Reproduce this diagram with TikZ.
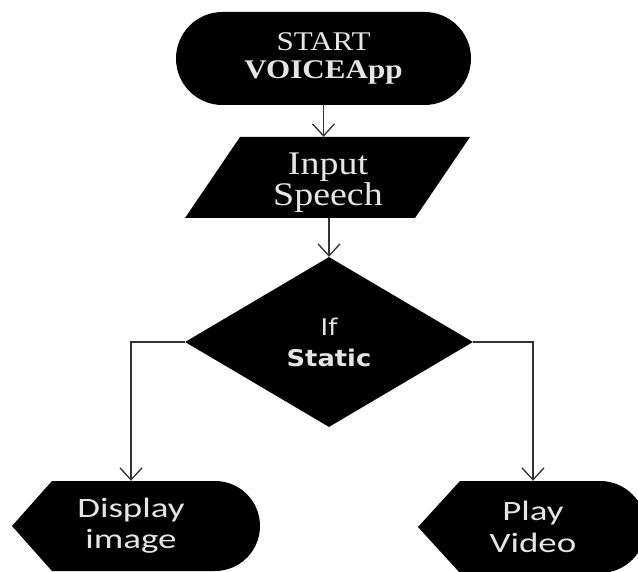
\documentclass[tikz,border=0pt]{standalone}
\usepackage{fontspec}
\usetikzlibrary{shapes.geometric,shapes.misc,arrows.meta}
\newfontfamily\serifw[FakeStretch=1.15]{Liberation Serif}
\newfontfamily\dejaw[FakeStretch=1.12]{DejaVu Sans}
\newfontfamily\carlw[FakeStretch=1.32]{Carlito}
\begin{document}
\begin{tikzpicture}[x=1pt,y=-1pt,
  txt/.style={text=white!90!black, align=center, inner sep=0pt},
  arr/.style={draw=black!80, line width=1.3pt, -{Straight Barb[length=12pt,width=22pt]}}]
\useasboundingbox[fill=white] (0,0) rectangle (638,572);
% terminator
\node[rounded rectangle, fill=black, minimum width=295pt, minimum height=93pt, txt,
      font=\fontsize{27}{28.5}\selectfont\serifw] (start) at (323.5,58.5) {START\\\textbf{VOICEApp}};
% input parallelogram
\fill (240,137) -- (470,137) -- (415,218) -- (185,218) -- cycle;
\node[inner sep=0pt, minimum width=230pt, minimum height=81pt] (inp) at (327.5,177.5) {};
\node[txt, font=\fontsize{33}{27}\selectfont\serifw] (inptxt) at (328,183) {Input\\Speech};
% decision
\node[diamond, fill=black, minimum width=288pt, minimum height=170pt, txt,
      font=\fontsize{23}{31}\selectfont\dejaw] (dec) at (329,342) {If\\\textbf{Static}};
% display shapes
\fill (12,526) -- (52,481) -- (215,481) arc[start angle=90,end angle=-90,radius=45pt] -- (52,571) -- cycle;
\node[txt, minimum width=200pt, minimum height=90pt,
      font=\fontsize{28}{31}\selectfont\carlw] (disp) at (131,526) {Display\\image};
\fill (418,527) -- (460,481) -- (600,481) arc[start angle=90,end angle=-90,radius=46pt] -- (460,573) -- cycle;
\node[txt, minimum width=200pt, minimum height=92pt,
      font=\fontsize{28}{32}\selectfont\carlw] (play) at (533,527) {Play\\Video};
% connectors
\draw[arr] (start.south) -- (start.south |- inp.north);
\draw[arr] (inp.south -| dec.north) -- (dec.north);
\draw[arr] (dec.west) -| (disp.north);
\draw[arr] (dec.east) -| (play.north);
\end{tikzpicture}
\end{document}
